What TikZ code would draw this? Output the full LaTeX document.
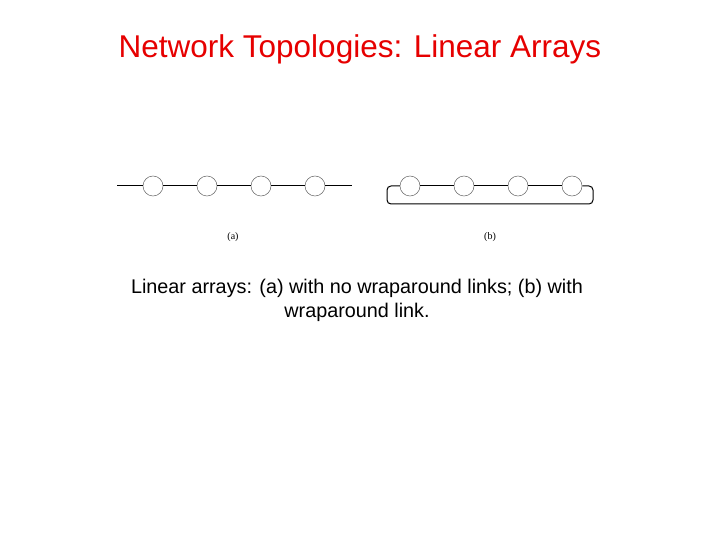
\documentclass[tikz,border=0pt]{standalone}
\usepackage{fontspec}
\setmainfont{Liberation Sans}
\newfontfamily\labelfont{Liberation Serif}
\usepackage{xcolor}
\definecolor{titlered}{RGB}{230,0,0}

\begin{document}
\begin{tikzpicture}[x=1pt,y=-1pt,
    proc/.style={circle, draw=gray!80!black, line width=0.5pt, minimum size=20pt, inner sep=0pt},
    link/.style={line width=1pt}]
    \useasboundingbox (0,0) rectangle (720,540);
    % Titulo
    \node[titlered, font=\fontsize{31.5}{36}\selectfont] (title) at (360,49) {Network Topologies: Linear Arrays};
    % (a) sem wraparound
    \coordinate (aL) at (117,186);
    \coordinate (aR) at (352,186);
    \foreach \i/\x in {1/153,2/207,3/261,4/315}
        \node[proc] (a\i) at (\x,186) {};
    \draw[link] (aL) -- (a1) -- (a2) -- (a3) -- (a4) -- (aR);
    \node[font=\labelfont\fontsize{10}{12}\selectfont] (la) at (233,237) {(a)};
    % (b) com wraparound
    \foreach \i/\x in {1/410,2/464,3/518,4/572}
        \node[proc] (b\i) at (\x,186) {};
    \draw[link] (b1) -- (b2) -- (b3) -- (b4);
    \draw[link, rounded corners=4pt] (b4.east) -- (593,186) -- (593,204) -- (387,204) -- (387,186) -- (b1.west);
    \node[font=\labelfont\fontsize{10}{12}\selectfont] (lb) at (490,237) {(b)};
    % Legenda
    \node[align=center, font=\fontsize{19.8}{24}\selectfont] (caption) at (357,300)
        {Linear arrays: (a) with no wraparound links; (b) with\\wraparound link.};
\end{tikzpicture}
\end{document}
